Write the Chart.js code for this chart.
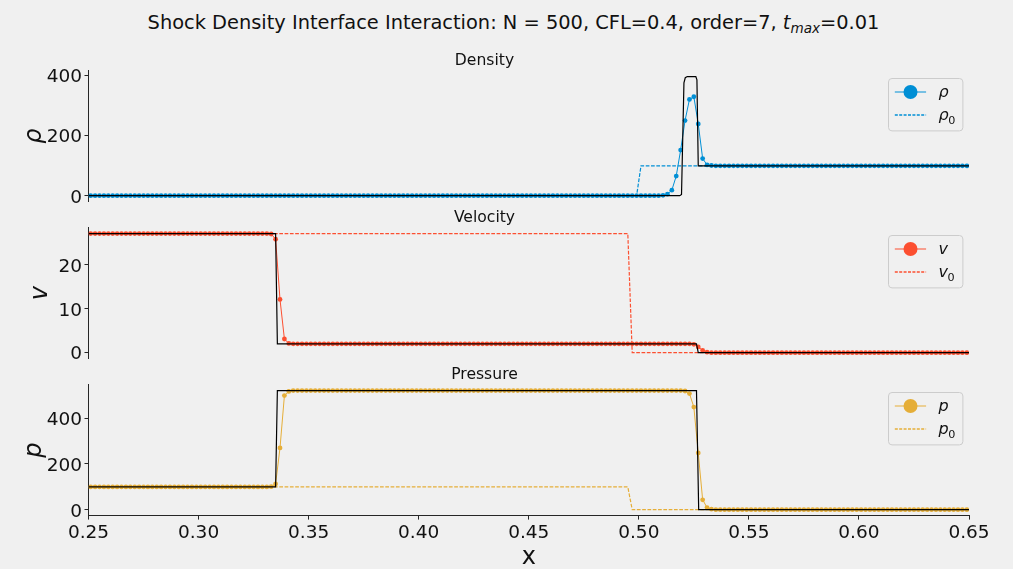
<!DOCTYPE html>
<html>
<head>
<meta charset="utf-8">
<script src="https://cdn.jsdelivr.net/npm/chart.js@4.4.1/dist/chart.umd.min.js"></script>
<style>
  html, body { margin: 0; padding: 0; background: #f0f0f0; }
  body { width: 1013px; height: 569px; position: relative; overflow: hidden; font-family: "DejaVu Sans", sans-serif; }
  #suptitle { position: absolute; left: 0; width: 1027px; top: 13px; text-align: center; font-size: 19.4px; line-height: 20px; color: #111; white-space: nowrap; }
  #suptitle sub { font-size: 0.7em; vertical-align: -0.3em; line-height: 0; }
  canvas { position: absolute; left: 0; }
</style>
</head>
<body>
<div id="suptitle">Shock Density Interface Interaction: N = 500, CFL=0.4, order=7, <i>t</i><sub><i>max</i></sub>=0.01</div>
<canvas id="rhoChart" width="1013" height="190" style="top:40px"></canvas>
<canvas id="velChart" width="1013" height="190" style="top:197px"></canvas>
<canvas id="presChart" width="1013" height="215" style="top:354px"></canvas>
<script>
// Solver mesh: N = 500 cells on [0, 1]; the shown window holds cells 125..324
const N_CELLS = 500;
const FIRST_CELL = 125;

// Numerical solution at t = 0.01 (one value per cell, 20 per row)
const rho = [
  1,1,1,1,1,1,1,1,1,1,1,1,1,1,1,1,1,1,1,1,
  1,1,1,1,1,1,1,1,1,1,1,1,1,1,1,1,1,1,1,1,
  1,1,1,1,1,1,1,1,1,1,1,1,1,1,1,1,1,1,1,1,
  1,1,1,1,1,1,1,1,1,1,1,1,1,1,1,1,1,1,1,1,
  1,1,1,1,1,1,1,1,1,1,1,1,1,1,1,1,1,1,1,1,
  1,1,1,1,1,1,1,1,1,1,1,1,1,1,1,1,1,1,1,1,
  1,1,1,1,1,1,1,1,1,1,2,6,19,66,152,250,320,329,239,124,
  103,101,100,100,100,100,100,100,100,100,100,100,100,100,100,100,100,100,100,100,
  100,100,100,100,100,100,100,100,100,100,100,100,100,100,100,100,100,100,100,100,
  100,100,100,100,100,100,100,100,100,100,100,100,100,100,100,100,100,100,100,100
];
const vel = [
  27.1,27.1,27.1,27.1,27.1,27.1,27.1,27.1,27.1,27.1,27.1,27.1,27.1,27.1,27.1,27.1,27.1,27.1,27.1,27.1,
  27.1,27.1,27.1,27.1,27.1,27.1,27.1,27.1,27.1,27.1,27.1,27.1,27.1,27.1,27.1,27.1,27.1,27.1,27.1,27.1,
  27.1,27.0,25.8,12.1,3.1,2.1,2,2,2,2,2,2,2,2,2,2,2,2,2,2,
  2,2,2,2,2,2,2,2,2,2,2,2,2,2,2,2,2,2,2,2,
  2,2,2,2,2,2,2,2,2,2,2,2,2,2,2,2,2,2,2,2,
  2,2,2,2,2,2,2,2,2,2,2,2,2,2,2,2,2,2,2,2,
  2,2,2,2,2,2,2,2,2,2,2,2,2,2,2,2,2,1.9,1.3,0.5,
  0.1,0,0,0,0,0,0,0,0,0,0,0,0,0,0,0,0,0,0,0,
  0,0,0,0,0,0,0,0,0,0,0,0,0,0,0,0,0,0,0,0,
  0,0,0,0,0,0,0,0,0,0,0,0,0,0,0,0,0,0,0,0
];
const pres = [
  100,100,100,100,100,100,100,100,100,100,100,100,100,100,100,100,100,100,100,100,
  100,100,100,100,100,100,100,100,100,100,100,100,100,100,100,100,100,100,100,100,
  100,101,113,270,498,516,520,520,520,520,520,520,520,520,520,520,520,520,520,520,
  520,520,520,520,520,520,520,520,520,520,520,520,520,520,520,520,520,520,520,520,
  520,520,520,520,520,520,520,520,520,520,520,520,520,520,520,520,520,520,520,520,
  520,520,520,520,520,520,520,520,520,520,520,520,520,520,520,520,520,520,520,520,
  520,520,520,520,520,520,520,520,520,520,520,520,520,520,520,518,507,448,248,44,
  10,3,1,1,1,1,1,1,1,1,1,1,1,1,1,1,1,1,1,1,
  1,1,1,1,1,1,1,1,1,1,1,1,1,1,1,1,1,1,1,1,
  1,1,1,1,1,1,1,1,1,1,1,1,1,1,1,1,1,1,1,1
];

// Initial condition (piecewise constant, sampled on the mesh)
const rho0X = [0.25, 0.499, 0.501, 0.65];
const rho0  = [1, 1, 100, 100];
const v0X   = [0.25, 0.495, 0.497, 0.65];
const v0    = [27.1, 27.1, 0, 0];
const p0X   = [0.25, 0.495, 0.497, 0.65];
const p0    = [100, 100, 1, 1];

// Exact Riemann solution at t = 0.01
const rhoExX = [0.25, 0.5186, 0.5194, 0.5205, 0.5211, 0.522, 0.5259, 0.5264, 0.527, 0.65];
const rhoEx  = [1, 1, 5, 375, 392, 396, 396, 385, 100, 100];
const vExX   = [0.25, 0.335, 0.3358, 0.5262, 0.527, 0.65];
const vEx    = [27.1, 27.1, 2.0, 2.0, 0, 0];
const pExX   = [0.25, 0.335, 0.3358, 0.5262, 0.5272, 0.65];
const pEx    = [100, 100, 520, 520, 1, 1];

// Tick labels
const xTicks   = [0.25, 0.30, 0.35, 0.40, 0.45, 0.50, 0.55, 0.60, 0.65];
const rhoTicks = [0, 200, 400];
const vTicks   = [0, 10, 20];
const pTicks   = [0, 200, 400];

const C_BLUE = '#008fd5', C_RED = '#fc4f30', C_YELLOW = '#e5ae38';
const TEXT = '#111', SPINE = '#262626';
const FONT = '"DejaVu Sans", sans-serif';

Chart.defaults.font.family = FONT;
Chart.defaults.color = TEXT;

const cellX = (i) => (FIRST_CELL + i + 0.5) / N_CELLS;
const pairs = (xs, ys) => ys.map((y, i) => ({ x: xs[i], y }));
const cellPairs = (ys) => ys.map((y, i) => ({ x: cellX(i), y }));

// Framed legend drawn in the upper-right corner of each panel
const boxLegend = {
  id: 'boxLegend',
  afterDatasetsDraw(chart, args, opts) {
    const { ctx, chartArea: a } = chart;
    const w = 74.4, h = 52.4;
    const x0 = Math.round(a.right - 7 - w) + 0.5, y0 = Math.round(a.top + 7.6) + 0.5;
    ctx.save();
    ctx.beginPath();
    ctx.roundRect(x0, y0, w, h, 3.5);
    ctx.fillStyle = 'rgba(240,240,240,0.8)';
    ctx.fill();
    ctx.strokeStyle = '#cccccc';
    ctx.lineWidth = 1;
    ctx.stroke();
    opts.items.forEach((it, k) => {
      const ds = chart.data.datasets[it.ds];
      const y = Math.round(y0 + 13.6 + 22.4 * k);
      ctx.setLineDash(ds.borderDash ? [3, 1.4] : []);
      ctx.strokeStyle = ds.borderColor;
      ctx.lineWidth = ds.borderDash ? 1.4 : 1.2;
      ctx.beginPath();
      ctx.moveTo(x0 + 6.3, y);
      ctx.lineTo(x0 + 37.6, y);
      ctx.stroke();
      ctx.setLineDash([]);
      if (it.marker) {
        ctx.fillStyle = ds.borderColor;
        ctx.beginPath();
        ctx.arc(x0 + 22, y, 7, 0, Math.PI * 2);
        ctx.fill();
      }
      ctx.fillStyle = TEXT;
      ctx.textAlign = 'left';
      ctx.textBaseline = 'alphabetic';
      ctx.font = 'italic 16px ' + FONT;
      ctx.fillText(it.sym, x0 + 50, y + 4.9);
      if (it.sub) {
        const sw = ctx.measureText(it.sym).width;
        ctx.font = '11.2px ' + FONT;
        ctx.fillText(it.sub, x0 + 50 + sw - 0.5, y + 9.1);
      }
    });
    ctx.restore();
  }
};

function makePanel(id, cfg) {
  const bottom = !!cfg.bottom;
  const chart = new Chart(document.getElementById(id), {
    type: 'line',
    data: {
      datasets: [
        { // exact solution
          data: pairs(cfg.exX, cfg.ex), borderColor: '#000', backgroundColor: '#000',
          borderWidth: 1.2, pointRadius: 0, tension: 0
        },
        { // numerical solution
          data: cellPairs(cfg.num), borderColor: cfg.color, backgroundColor: cfg.color,
          borderWidth: 1, pointRadius: 2.4, pointBorderWidth: 0,
          pointBackgroundColor: cfg.color, tension: 0
        },
        { // initial condition
          data: pairs(cfg.initX, cfg.init), borderColor: cfg.color, backgroundColor: cfg.color,
          borderWidth: 1.2, borderDash: [3.7, 1.6], pointRadius: 0, tension: 0
        }
      ]
    },
    options: {
      responsive: false,
      animation: false,
      events: [],
      layout: { padding: { left: 0, right: 44, top: 0, bottom: bottom ? 0 : 28.4 } },
      plugins: {
        legend: { display: false },
        tooltip: { enabled: false },
        title: {
          display: true, text: cfg.title, color: TEXT,
          font: { size: 15.6, weight: 'normal' },
          padding: { top: 12, bottom: 0 }
        },
        boxLegend: { items: cfg.legend }
      },
      scales: {
        x: {
          type: 'linear', min: 0.25, max: 0.65, display: bottom,
          afterBuildTicks: (s) => { s.ticks = xTicks.map((v) => ({ value: v })); },
          afterFit: (s) => { s.height = bottom ? 53.4 : 0; },
          ticks: {
            autoSkip: false, maxRotation: 0, padding: 2.5, color: TEXT,
            font: { size: 18.5 }, callback: (v) => Number(v).toFixed(2)
          },
          grid: { display: true, drawOnChartArea: false, tickLength: 4, color: SPINE },
          border: { display: true, color: SPINE, width: 1 },
          title: { display: true, text: 'x', color: TEXT, font: { size: 24 }, padding: { top: 0, bottom: -3.5 } }
        },
        y: {
          min: cfg.min, max: cfg.max,
          afterBuildTicks: (s) => { s.ticks = cfg.ticks.map((v) => ({ value: v })); },
          afterFit: (s) => { s.width = 88.5; },
          ticks: { padding: 2.5, labelOffset: 2, color: TEXT, font: { size: 18.5 } },
          grid: { display: true, drawOnChartArea: false, tickLength: 4, color: SPINE },
          border: { display: true, color: SPINE, width: 1 },
          title: {
            display: true, text: cfg.ylabel, color: TEXT,
            font: { size: 24, style: 'italic' }, padding: { top: cfg.ylabelPad, bottom: 0 }
          }
        }
      }
    },
    plugins: [boxLegend]
  });

  // Keep every panel's plot box at the same height and spacing
  for (let k = 0; k < 4; k++) {
    const a = chart.chartArea;
    const dt = cfg.areaTop - a.top, db = cfg.areaBottom - a.bottom;
    if (Math.abs(dt) < 0.05 && Math.abs(db) < 0.05) break;
    chart.options.plugins.title.padding.bottom += dt;
    chart.options.layout.padding.bottom -= db;
    chart.update('none');
  }
  return chart;
}

makePanel('rhoChart', {
  title: 'Density', ylabel: 'ρ', ylabelPad: 20.5, color: C_BLUE,
  num: rho, initX: rho0X, init: rho0, exX: rhoExX, ex: rhoEx,
  min: -18.75, max: 415.75, ticks: rhoTicks, areaTop: 30.6, areaBottom: 161.6,
  legend: [{ ds: 1, marker: true, sym: 'ρ' }, { ds: 2, sym: 'ρ', sub: '0' }]
});
makePanel('velChart', {
  title: 'Velocity', ylabel: 'v', ylabelPad: 26.5, color: C_RED,
  num: vel, initX: v0X, init: v0, exX: vExX, ex: vEx,
  min: -1.355, max: 28.455, ticks: vTicks, areaTop: 30.6, areaBottom: 161.6,
  legend: [{ ds: 1, marker: true, sym: 'v' }, { ds: 2, sym: 'v', sub: '0' }]
});
makePanel('presChart', {
  title: 'Pressure', ylabel: 'p', ylabelPad: 20.5, color: C_YELLOW, bottom: true,
  num: pres, initX: p0X, init: p0, exX: pExX, ex: pEx,
  min: -24.95, max: 545.95, ticks: pTicks, areaTop: 30.6, areaBottom: 161.6,
  legend: [{ ds: 1, marker: true, sym: 'p' }, { ds: 2, sym: 'p', sub: '0' }]
});
</script>
</body>
</html>
